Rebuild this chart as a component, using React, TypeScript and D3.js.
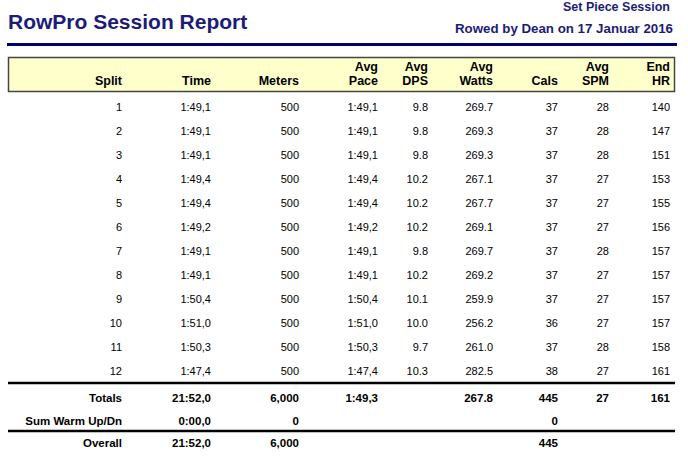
import React, { useRef, useEffect } from 'react';
import * as d3 from 'd3';

// split rows
const splits = ['1', '2', '3', '4', '5', '6', '7', '8', '9', '10', '11', '12'];
const times = ['1:49,1', '1:49,1', '1:49,1', '1:49,4', '1:49,4', '1:49,2', '1:49,1', '1:49,1', '1:50,4', '1:51,0', '1:50,3', '1:47,4'];
const meters = [500, 500, 500, 500, 500, 500, 500, 500, 500, 500, 500, 500];
const paces = ['1:49,1', '1:49,1', '1:49,1', '1:49,4', '1:49,4', '1:49,2', '1:49,1', '1:49,1', '1:50,4', '1:51,0', '1:50,3', '1:47,4'];
const dps = [9.8, 9.8, 9.8, 10.2, 10.2, 10.2, 9.8, 10.2, 10.1, 10.0, 9.7, 10.3];
const watts = [269.7, 269.3, 269.3, 267.1, 267.7, 269.1, 269.7, 269.2, 259.9, 256.2, 261.0, 282.5];
const cals = [37, 37, 37, 37, 37, 37, 37, 37, 37, 36, 37, 38];
const spm = [28, 28, 28, 27, 27, 27, 28, 27, 27, 27, 28, 27];
const endHr = [140, 147, 151, 153, 155, 156, 157, 157, 157, 157, 158, 161];

// summary rows
const summaryLabels = ['Totals', 'Sum Warm Up/Dn', 'Overall'];
const summaryTimes = ['21:52,0', '0:00,0', '21:52,0'];
const summaryMeters = ['6,000', '0', '6,000'];
const summaryPace = ['1:49,3', '', ''];
const summaryWatts = ['267.8', '', ''];
const summaryCals = ['445', '0', '445'];
const summarySpm = ['27', '', ''];
const summaryHr = ['161', '', ''];

const headerTop = ['', '', '', 'Avg', 'Avg', 'Avg', '', 'Avg', 'End'];
const headerBottom = ['Split', 'Time', 'Meters', 'Pace', 'DPS', 'Watts', 'Cals', 'SPM', 'HR'];

const NAVY = '#1c1c78';
const FONT = 'Liberation Sans, Arial, Helvetica, sans-serif';

const SessionReport = () => {
  const ref = useRef(null);
  useEffect(() => {
    document.body.style.margin = '0';
    const el = ref.current;
    d3.select(el).selectAll('*').remove();

    const svg = d3.select(el)
      .append('svg')
      .attr('width', 688)
      .attr('height', 457)
      .style('display', 'block')
      .style('font-family', FONT);

    // right edges of the columns
    const colX = d3.scaleOrdinal()
      .domain(headerBottom)
      .range([122, 211, 299, 378, 428, 493, 558, 609, 670]);

    const rowY = d3.scalePoint().domain(splits).range([107, 371]);
    const sumY = d3.scalePoint().domain(summaryLabels).range([398, 443]);

    // title block
    svg.append('text')
      .attr('x', 8).attr('y', 29)
      .attr('font-size', 21).attr('font-weight', 'bold')
      .attr('fill', NAVY)
      .text('RowPro Session Report');

    svg.append('text')
      .attr('x', 670).attr('y', 11)
      .attr('text-anchor', 'end')
      .attr('font-size', 12.5).attr('font-weight', 'bold')
      .attr('fill', NAVY)
      .text('Set Piece Session');

    svg.append('text')
      .attr('x', 673).attr('y', 33)
      .attr('text-anchor', 'end')
      .attr('font-size', 13.3).attr('font-weight', 'bold')
      .attr('fill', NAVY)
      .text('Rowed by Dean on 17 Januar 2016');

    svg.append('rect')
      .attr('x', 7).attr('y', 43)
      .attr('width', 670).attr('height', 3)
      .attr('fill', '#00006b');

    // header box
    svg.append('rect')
      .attr('x', 8.5).attr('y', 57.5)
      .attr('width', 666).attr('height', 34)
      .attr('fill', '#ffffcc')
      .attr('stroke', '#444')
      .attr('stroke-width', 1.5);

    const head = svg.append('g')
      .attr('font-size', 12.5).attr('font-weight', 'bold')
      .attr('text-anchor', 'end');

    head.selectAll('text.top')
      .data(headerBottom)
      .enter().append('text')
      .attr('class', 'top')
      .attr('x', d => colX(d))
      .attr('y', 71)
      .text((d, i) => headerTop[i]);

    head.selectAll('text.bottom')
      .data(headerBottom)
      .enter().append('text')
      .attr('class', 'bottom')
      .attr('x', d => colX(d))
      .attr('y', 85)
      .text(d => d);

    // split rows
    const rows = splits.map((s, i) => [
      s, times[i], String(meters[i]), paces[i], dps[i].toFixed(1),
      watts[i].toFixed(1), String(cals[i]), String(spm[i]), String(endHr[i])
    ]);

    const body = svg.append('g')
      .attr('font-size', 11)
      .attr('text-anchor', 'end');

    body.selectAll('g')
      .data(rows)
      .enter().append('g')
      .attr('transform', d => `translate(0,${rowY(d[0])})`)
      .selectAll('text')
      .data(d => d)
      .enter().append('text')
      .attr('x', (d, j) => colX(headerBottom[j]))
      .attr('dy', '0.35em')
      .text(d => d);

    // summary rows
    const sumRows = summaryLabels.map((l, i) => [
      l, summaryTimes[i], summaryMeters[i], summaryPace[i], '',
      summaryWatts[i], summaryCals[i], summarySpm[i], summaryHr[i]
    ]);

    const foot = svg.append('g')
      .attr('font-size', 11.5).attr('font-weight', 'bold')
      .attr('text-anchor', 'end');

    foot.selectAll('g')
      .data(sumRows)
      .enter().append('g')
      .attr('transform', d => `translate(0,${sumY(d[0])})`)
      .selectAll('text')
      .data(d => d)
      .enter().append('text')
      .attr('x', (d, j) => colX(headerBottom[j]))
      .attr('dy', '0.35em')
      .text(d => d);

    // rule lines
    [383, 431].forEach(y => {
      svg.append('line')
        .attr('x1', 8).attr('x2', 675)
        .attr('y1', y).attr('y2', y)
        .attr('stroke', '#000')
        .attr('stroke-width', 2.5);
    });
  }, []);
  return <div ref={ref}></div>;
};

export default function App() {
  return <SessionReport />;
}
